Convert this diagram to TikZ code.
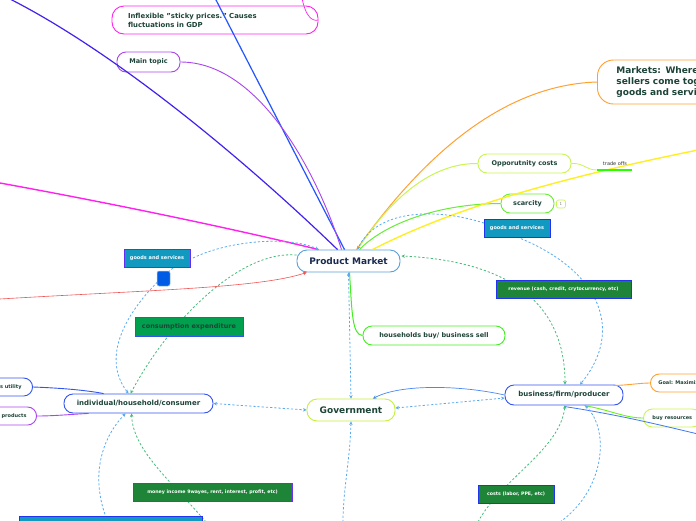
\documentclass[tikz,border=0pt]{standalone}
\usepackage{fontspec}
\setmainfont{DejaVu Sans}
\usetikzlibrary{calc,arrows.meta}
\definecolor{txt}{HTML}{1D4438}
\definecolor{navy}{HTML}{1A2A50}
\definecolor{pmblue}{HTML}{5AA0D8}
\definecolor{dblue}{HTML}{5AAAF0}
\definecolor{dgreen}{HTML}{44BB77}
\definecolor{vio}{HTML}{4422EE}
\definecolor{blu}{HTML}{2255FF}
\definecolor{mag}{HTML}{FF22EE}
\definecolor{pur}{HTML}{AA44EE}
\definecolor{ora}{HTML}{FFA030}
\definecolor{lgrn}{HTML}{C8F550}
\definecolor{grn}{HTML}{66EE33}
\definecolor{yel}{HTML}{FFEE22}
\definecolor{hgrn}{HTML}{44EE22}
\definecolor{red1}{HTML}{EE5555}
\definecolor{teal1}{HTML}{1299C0}
\definecolor{green1}{HTML}{1E8438}
\definecolor{green2}{HTML}{00A04E}
\definecolor{bordb}{HTML}{2233EE}
\definecolor{indb}{HTML}{3355EE}
\definecolor{govg}{HTML}{C5F03A}
\tikzset{
  topic/.style={draw, fill=white, rounded corners=9pt, line width=0.9pt, text=txt, inner sep=2pt, font=\fontsize{6.5}{8}\selectfont\bfseries},
  lbl/.style={draw, line width=0.9pt, inner sep=1pt, text=white, font=\fontsize{4.7}{6}\selectfont\bfseries},
  dl/.style={dash pattern=on 2.2pt off 2pt, line width=0.8pt},
  tip/.style={-{Stealth[length=3.5pt,width=3.5pt]}},
  tips/.style={{Stealth[length=3.5pt,width=3.5pt]}-{Stealth[length=3.5pt,width=3.5pt]}},
}
\begin{document}
\begin{tikzpicture}[x=1pt,y=-1pt]
\useasboundingbox (0,0) rectangle (696,520);
\clip (0,0) rectangle (696,520);
\fill[white] (0,0) rectangle (696,520);

% ---------- nodes (coordinates used by connectors) ----------
\path
  (348.5,261) node[topic, draw=pmblue, text=navy, minimum width=103pt, minimum height=22pt, rounded corners=10pt, font=\fontsize{9}{11}\selectfont\bfseries] (pm) {Product Market}
  (351,410) node[topic, draw=govg, minimum width=88pt, minimum height=22pt, rounded corners=10pt, font=\fontsize{9}{11}\selectfont\bfseries] (gov) {Government}
  (138.5,403.5) node[topic, draw=indb, minimum width=149pt, minimum height=19pt, font=\fontsize{7}{8}\selectfont\bfseries] (ind) {individual/household/consumer}
  (564,395) node[topic, draw=indb, minimum width=118pt, minimum height=20pt, font=\fontsize{7}{8}\selectfont\bfseries] (bus) {business/firm/producer}
  (215,20) node[topic, draw=mag, minimum height=28pt, rounded corners=12pt, text width=174pt, inner xsep=16pt, align=left, font=\fontsize{6.9}{9}\selectfont\bfseries] (infl) {Inflexible "sticky prices." Causes\\fluctuations in GDP}
  (148.5,62) node[topic, draw=pur, minimum width=63pt, minimum height=20pt] (main) {Main topic}
  (597,82) node[topic, anchor=west, draw=ora, minimum height=44pt, rounded corners=16pt, text width=200pt, inner xsep=19pt, align=left, font=\fontsize{9}{11}\selectfont\bfseries] (mk) {Markets: Where buyers and\\sellers come together to trade\\goods and services}
  (524.5,163.5) node[topic, draw=lgrn, minimum width=93pt, minimum height=19pt] (opp) {Opporutnity costs}
  (527.5,203.5) node[topic, draw=grn, minimum width=53pt, minimum height=19pt] (sc) {scarcity}
  (434,335.5) node[topic, draw=hgrn, minimum width=142pt, minimum height=19pt] (hh) {households buy/ business sell}
  (33,387) node[topic, anchor=east, draw=indb, minimum height=18pt, text width=70pt, align=right, inner xsep=11pt, font=\fontsize{5}{6}\selectfont\bfseries] (ut) {Maximizes utility}
  (37,416) node[topic, anchor=east, draw=pur, minimum height=18pt, text width=70pt, align=right, inner xsep=10pt, font=\fontsize{5}{6}\selectfont\bfseries] (pr) {Buy products}
  (650,383) node[topic, anchor=west, draw=ora, minimum height=18pt, inner xsep=8pt, font=\fontsize{5}{6}\selectfont\bfseries] (goal) {Goal: Maximize profit}
  (643,418) node[topic, anchor=west, draw=lgrn, minimum height=18pt, inner xsep=9pt, font=\fontsize{5}{6}\selectfont\bfseries] (buy) {buy resources}
  (615,164) node[inner sep=0pt, text=black!80, font=\fontsize{5}{6}\selectfont] (to) {trade offs};
\coordinate (ul1) at (597,170);
\coordinate (ul2) at (632,170);

% ---------- solid connectors ----------
\draw[vio, line width=1.2pt] (10,-1) .. controls (120,55) and (250,165) .. ($(pm.north)+(-11,0)$);
\draw[blu, line width=1.2pt] (215,-2) -- ($(pm.north)+(-4,0)$);
\draw[mag, line width=0.7pt] (302,-2) .. controls (305,14) and (311,22) .. (infl.east);
\draw[pur, line width=0.9pt] (main.east) .. controls (260,62) and (318,175) .. ($(pm.north)+(-7,0)$);
\draw[mag, line width=1.4pt] (0,183) .. controls (110,203) and (230,228) .. ($(pm.north west)+(22,0)$);
\draw[red1, line width=0.6pt, tip] (0,299) .. controls (150,290) and (260,288) .. ($(pm.south west)+(10,0)$);
\draw[ora, line width=1pt] ($(pm.north)+(8,0)$) .. controls (420,160) and (500,85) .. (mk.west);
\draw[lgrn, line width=1pt] ($(pm.north)+(9,0)$) .. controls (390,200) and (430,163) .. (opp.west);
\draw[grn, line width=1pt] ($(pm.north)+(11,0)$) .. controls (380,228) and (430,204) .. (sc.west);
\draw[yel, line width=1.4pt] ($(pm.north)+(24,0)$) .. controls (450,210) and (550,180) .. (698,150);
\draw[lgrn, line width=0.8pt] (opp.east) .. controls (585,163) and (585,170) .. (ul1);
\draw[green!80!lime, line width=1.5pt] (ul1) -- (ul2);
\draw[hgrn, line width=1pt] ($(pm.south)+(1,0)$) .. controls (352,312) and (352,335) .. (hh.west);
\draw[dblue!80!blue, line width=0.7pt, tip] (bus.west) .. controls (460,385) and (400,384) .. ($(gov.north)+(22,0)$);
\draw[ora, line width=0.9pt] ($(bus.north east)+(-10,1)$) .. controls (630,385) and (640,383) .. (goal.west);
\draw[hgrn!70!lime, line width=0.9pt] ($(bus.south)+(20,0)$) .. controls (610,410) and (625,418) .. (buy.west);
\draw[dblue!70!blue, line width=0.8pt] ($(bus.south)+(0,1)$) .. controls (620,415) and (660,425) .. (698,434);
\draw[indb, line width=0.9pt] (ut.east) .. controls (60,388) and (85,390) .. ($(ind.north west)+(40,0)$);
\draw[pur, line width=0.9pt] (pr.east) .. controls (55,416) and (75,414) .. ($(ind.south west)+(25,0)$);

% ---------- dashed connectors ----------
\draw[dblue, dl, tips] (pm.south) -- (gov.north);
\draw[dblue, dl, tips] (ind.east) -- (gov.west);
\draw[dblue, dl, tips] ($(gov.east)+(0,-2)$) -- ($(bus.west)+(0,3)$);
\draw[dblue, dl, tip] (193,258) .. controls (230,240) and (290,236) .. ($(pm.north west)+(22,0)$);
\draw[dblue, dl, tip] (173,268) .. controls (140,295) and (95,350) .. ($(ind.north)+(-10,0)$);
\draw[dgreen, dl, tip] ($(pm.west)+(0,-6)$) .. controls (240,250) and (170,320) .. ($(ind.north)+(-8,0)$);
\draw[dblue, dl, tip] (484,223) .. controls (430,206) and (375,212) .. ($(pm.north)+(9,0)$);
\draw[dblue, dl, tip] (517,237) .. controls (600,270) and (625,330) .. ($(bus.north)+(16,0)$);
\draw[dgreen, dl, tips] ($(bus.north)+(1,0)$) .. controls (565,320) and (530,262) .. ($(pm.east)+(1,-5)$);
\draw[dblue, dl, tip] (343,522) .. controls (343,490) and (350,460) .. (gov.south);
\draw[dblue, dl, tip] (108,522) .. controls (90,480) and (100,440) .. ($(ind.south)+(-13,0)$);
\draw[dgreen, dl, tip] (206,522) .. controls (170,480) and (133,450) .. ($(ind.south)+(-7,0)$);
\draw[dgreen, dl, tip] (478,522) .. controls (500,480) and (560,450) .. ($(bus.south)+(1,0)$);
\draw[dblue, dl, tip] (560,522) .. controls (605,490) and (610,430) .. ($(bus.south)+(21,0)$);

% ---------- label boxes (drawn over the connectors) ----------
\path
  (517,228) node[lbl, fill=teal1, draw=bordb, minimum width=66pt, minimum height=18pt, font=\fontsize{5}{6}\selectfont\bfseries] (gsr) {goods and services}
  (157,258) node[lbl, fill=teal1, draw=vio!70!pur, minimum width=66pt, minimum height=18pt, font=\fontsize{5}{6}\selectfont\bfseries] (gsl) {goods and services}
  (163.5,278.5) node[fill=blue!60!cyan!90!black, draw=dblue!60, line width=0.5pt, rounded corners=2pt, minimum width=13pt, minimum height=15pt, inner sep=0pt] (sq) {}
  (189,326.5) node[lbl, fill=green2, draw=indb, text=txt, minimum width=108pt, minimum height=19pt, font=\fontsize{6.5}{8}\selectfont\bfseries] (ce) {consumption expenditure}
  (563.5,289) node[lbl, fill=green1, draw=bordb, minimum width=135pt, minimum height=18pt] (rev) {revenue (cash, credit, crytocurrency, etc)}
  (212.5,492) node[lbl, fill=green1, draw=vio!60!pur, minimum width=159pt, minimum height=18pt] (mi) {money income 9wayes, rent, interest, profit, etc)}
  (516,494) node[lbl, fill=green1, draw=bordb, minimum width=76pt, minimum height=18pt] (co) {costs (labor, PPE, etc)}
  (110.5,524) node[lbl, fill=teal1, draw=bordb, minimum width=183pt, minimum height=16pt] (bl) {}
  (561,204) node[draw=lgrn, line width=0.6pt, rounded corners=2pt, minimum width=9pt, minimum height=8pt, inner sep=0pt, text=black!50, font=\fontsize{4}{5}\selectfont] (badge) {1};
\end{tikzpicture}
\end{document}
